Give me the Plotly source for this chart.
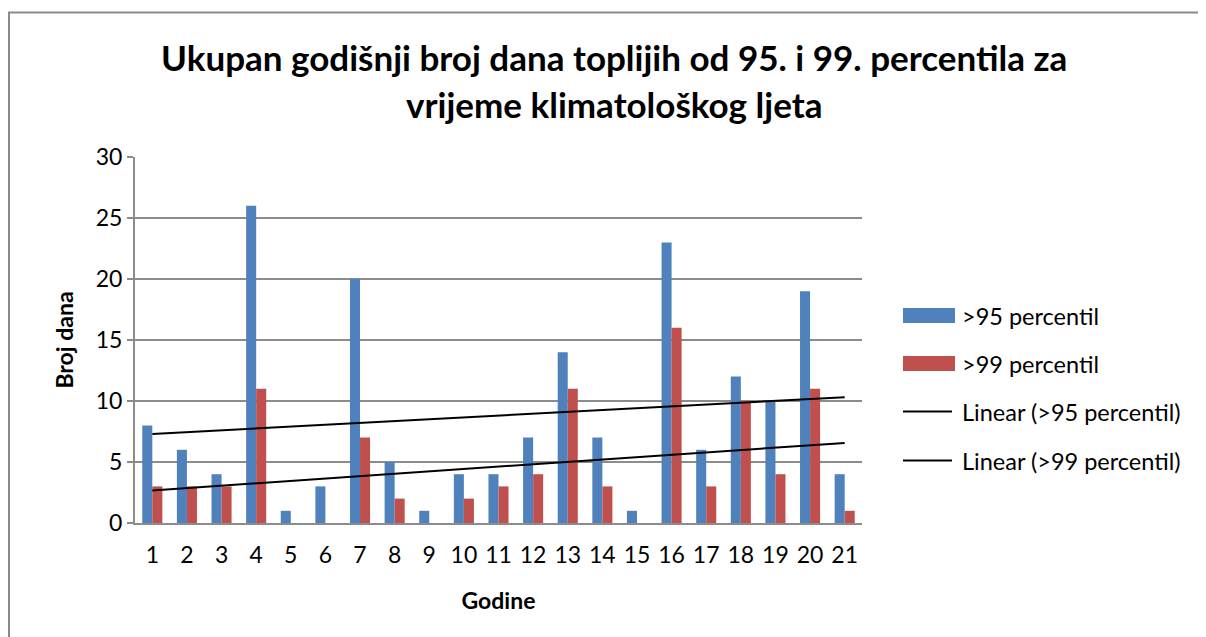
import numpy as np
import plotly.graph_objects as go

# ---- data ----
years = list(range(1, 22))
p95 = [8, 6, 4, 26, 1, 3, 20, 5, 1, 4, 4, 7, 14, 7, 1, 23, 6, 12, 10, 19, 4]
p99 = [3, 3, 3, 11, 0, 0, 7, 2, 0, 2, 3, 4, 11, 3, 0, 16, 3, 10, 4, 11, 1]
series_names = [">95 percentil", ">99 percentil"]
trend_names = ["Linear (>95 percentil)", "Linear (>99 percentil)"]
title_lines = ["Ukupan godišnji broj dana toplijih od 95. i 99. percentila za",
               "vrijeme klimatološkog ljeta"]
x_title = "Godine"
y_title = "Broj dana"
y_ticks = [0, 5, 10, 15, 20, 25, 30]

BLUE = "#4F81BD"
RED = "#C0504D"
GRID = "#8C8C8C"
FONT = "Lato, Carlito, Calibri, sans-serif"

OFF = 8  # page body margin
W, H = 1198, 629
ML, MT = 127, 149
PW, PH = 727, 366
MR = W - ML - PW
MB = H - MT - PH


def px(x):
    return (x - OFF - ML) / PW


def py(y):
    return (H - MB - (y - OFF)) / PH


fig = go.Figure()
fig.add_trace(go.Bar(x=years, y=p95, name=series_names[0], marker_color=BLUE,
                     marker_line_width=0, showlegend=False))
fig.add_trace(go.Bar(x=years, y=p99, name=series_names[1], marker_color=RED,
                     marker_line_width=0, showlegend=False))

xs = np.array(years, dtype=float)
for vals, nm in zip([p95, p99], trend_names):
    k, b = np.polyfit(xs, np.array(vals, dtype=float), 1)
    fig.add_trace(go.Scatter(x=[xs[0], xs[-1]], y=[k * xs[0] + b, k * xs[-1] + b],
                             mode="lines", line=dict(color="black", width=2),
                             name=nm, showlegend=False))

shapes = []
annotations = []
# outer chart border
shapes.append(dict(type="rect", xref="paper", yref="paper",
                   x0=px(9), x1=px(1230), y0=py(12.5), y1=py(660),
                   line=dict(color="#8A8A8A", width=2), fillcolor="rgba(0,0,0,0)",
                   layer="below"))

# custom legend
leg_y = [315.5, 363.5, 411.5, 460.5]
leg_cols = [BLUE, RED]
leg_labels = series_names + trend_names
for i, yy in enumerate(leg_y):
    if i < 2:
        shapes.append(dict(type="rect", xref="paper", yref="paper",
                           x0=px(903), x1=px(955), y0=py(yy - 7.5), y1=py(yy + 7.5),
                           fillcolor=leg_cols[i], line=dict(width=0)))
    else:
        shapes.append(dict(type="line", xref="paper", yref="paper",
                           x0=px(903), x1=px(952), y0=py(yy), y1=py(yy),
                           line=dict(color="black", width=2)))
    annotations.append(dict(text=leg_labels[i], xref="paper", yref="paper",
                            x=px(960), y=py(yy), xanchor="left", yanchor="middle",
                            showarrow=False, font=dict(family=FONT, size=23.5, color="black")))

# title lines
for t, yy in zip(title_lines, [57, 104]):
    annotations.append(dict(text="<b>" + t + "</b>", xref="paper", yref="paper",
                            x=px(614), y=py(yy), xanchor="center", yanchor="middle",
                            showarrow=False, font=dict(family=FONT, size=35, color="black")))

fig.update_layout(
    width=W, height=H,
    margin=dict(l=ML, r=MR, t=MT, b=MB, pad=0),
    paper_bgcolor="white", plot_bgcolor="white",
    barmode="group", bargap=0.42, bargroupgap=0,
    showlegend=False,
    font=dict(family=FONT, size=23, color="black"),
    shapes=shapes, annotations=annotations,
    xaxis=dict(range=[0.5, 21.5], tickmode="array", tickvals=years,
               ticktext=[str(v) for v in years], showgrid=False, zeroline=False,
               showline=True, linecolor=GRID, linewidth=2, ticks="outside", ticklen=10,
               tickcolor="rgba(0,0,0,0)",
               tickfont=dict(family=FONT, size=23), fixedrange=True,
               title=dict(text="<b>" + x_title + "</b>", font=dict(family=FONT, size=23),
                          standoff=26)),
    yaxis=dict(range=[0, 30], tickmode="array", tickvals=y_ticks,
               showgrid=True, gridcolor=GRID, gridwidth=1.5, zeroline=False,
               showline=True, linecolor=GRID, linewidth=2, ticks="outside",
               ticklen=6, tickcolor=GRID, tickwidth=1.5,
               tickfont=dict(family=FONT, size=23), fixedrange=True,
               title=dict(text="<b>" + y_title + "</b>", font=dict(family=FONT, size=23),
                          standoff=16)),
)

fig.write_html("out.html")
